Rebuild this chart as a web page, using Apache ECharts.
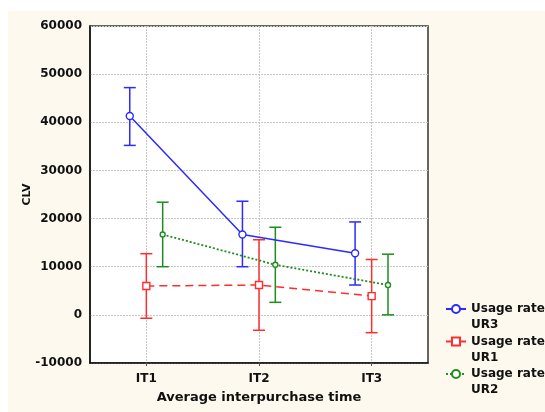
<!DOCTYPE html>
<html><head><meta charset="utf-8">
<script src="https://cdn.jsdelivr.net/npm/echarts@6/dist/echarts.min.js"></script>
<style>html,body{margin:0;padding:0;background:#fff}#c{width:545px;height:412px}</style>
</head><body><div id="c"></div>
<script>
const categories = ['IT1', 'IT2', 'IT3'];
const seriesNames = ['Usage rate\nUR3', 'Usage rate\nUR1', 'Usage rate\nUR2'];
const ur3Mean = [41300, 16700, 12800];
const ur3Low  = [35200, 10000, 6200];
const ur3High = [47200, 23600, 19300];
const ur1Mean = [6000, 6200, 3900];
const ur1Low  = [-700, -3200, -3700];
const ur1High = [12700, 15600, 11500];
const ur2Mean = [16700, 10400, 6200];
const ur2Low  = [10000, 2600, 0];
const ur2High = [23400, 18200, 12600];
const catPositions = [1, 2, 3];

const FONT = 'DejaVu Sans';
const colors = ['#2b2bff', '#ff2e2e', '#1f8c1f'];
const offsets = [-0.147, 0, 0.145];

function lineSeries(idx, mean, lineType, symbol, symbolSize, width) {
  return {
    type: 'line', name: seriesNames[idx], z: 4,
    data: mean.map((v, i) => [catPositions[i] + offsets[idx], v]),
    symbol: symbol, symbolSize: symbolSize, showSymbol: true,
    itemStyle: { color: '#fff', borderColor: colors[idx], borderWidth: 1.4 },
    lineStyle: { color: colors[idx], width: width, type: lineType },
    emphasis: { disabled: true }, animation: false
  };
}
function barSeries(idx, low, high) {
  const color = colors[idx];
  return {
    type: 'custom', z: 3, animation: false, silent: true,
    data: low.map((v, i) => [catPositions[i] + offsets[idx], v, high[i]]),
    encode: { x: 0, y: [1, 2] },
    renderItem: function (params, api) {
      const x = api.value(0);
      const p1 = api.coord([x, api.value(2)]);
      const p2 = api.coord([x, api.value(1)]);
      const hw = 6;
      const st = { stroke: color, lineWidth: 1.5 };
      return { type: 'group', children: [
        { type: 'line', shape: { x1: p1[0], y1: p1[1], x2: p2[0], y2: p2[1] }, style: st },
        { type: 'line', shape: { x1: p1[0] - hw, y1: p1[1], x2: p1[0] + hw, y2: p1[1] }, style: st },
        { type: 'line', shape: { x1: p2[0] - hw, y1: p2[1], x2: p2[0] + hw, y2: p2[1] }, style: st }
      ]};
    }
  };
}

const chart = echarts.init(document.getElementById('c'), null, { renderer: 'canvas' });
chart.setOption({
  backgroundColor: '#ffffff',
  animation: false,
  textStyle: { fontFamily: FONT },
  graphic: [{ type: 'rect', z: -10, silent: true, shape: { x: 8, y: 11, width: 537, height: 401 }, style: { fill: '#fdf9ee' } }],
  grid: { left: 90, top: 26, right: 117, bottom: 49, show: true, backgroundColor: '#ffffff', borderColor: '#333', borderWidth: 1.5 },
  xAxis: {
    type: 'value', min: 0.5, max: 3.5,
    name: 'Average interpurchase time', nameLocation: 'middle', nameGap: 28, nameMoveOverlap: false,
    nameTextStyle: { fontFamily: FONT, fontWeight: 'bold', fontSize: 13, color: '#111' },
    axisLine: { onZero: false, lineStyle: { color: '#111', width: 1.5 } },
    axisTick: { show: true, length: 3, customValues: catPositions, lineStyle: { color: '#555' } },
    axisLabel: { customValues: catPositions, formatter: v => categories[Math.round(v) - 1], fontFamily: FONT, fontWeight: 'bold', fontSize: 12, color: '#111', margin: 10 },
    splitLine: { show: true, lineStyle: { color: '#c8c8c8', type: [2, 1], width: 1 } }
  },
  yAxis: {
    type: 'value', min: -10000, max: 60000, interval: 10000,
    name: 'CLV', nameLocation: 'middle', nameGap: 57, nameRotate: 90, nameMoveOverlap: false,
    nameTextStyle: { fontFamily: FONT, fontWeight: 'bold', fontSize: 11, color: '#111' },
    axisLine: { show: true, lineStyle: { color: '#111', width: 1.5 } },
    axisTick: { show: false },
    axisLabel: { formatter: v => String(v), fontFamily: FONT, fontWeight: 'bold', fontSize: 12, color: '#111', margin: 8 },
    splitLine: { show: true, lineStyle: { color: '#c8c8c8', type: [2, 1], width: 1 } }
  },
  legend: {
    orient: 'vertical', left: 440, top: 280, itemWidth: 20, itemHeight: 10, itemGap: -15.5,
    data: seriesNames,
    formatter: name => '\n' + name,
    textStyle: { fontFamily: FONT, fontWeight: 'bold', fontSize: 12, lineHeight: 16, color: '#111' }
  },
  series: [
    lineSeries(0, ur3Mean, 'solid', 'circle', 7, 1.5),
    lineSeries(1, ur1Mean, [8, 5], 'rect', 7, 1.5),
    lineSeries(2, ur2Mean, [2, 2], 'circle', 5, 1.8),
    barSeries(0, ur3Low, ur3High),
    barSeries(1, ur1Low, ur1High),
    barSeries(2, ur2Low, ur2High)
  ]
});
</script></body></html>
